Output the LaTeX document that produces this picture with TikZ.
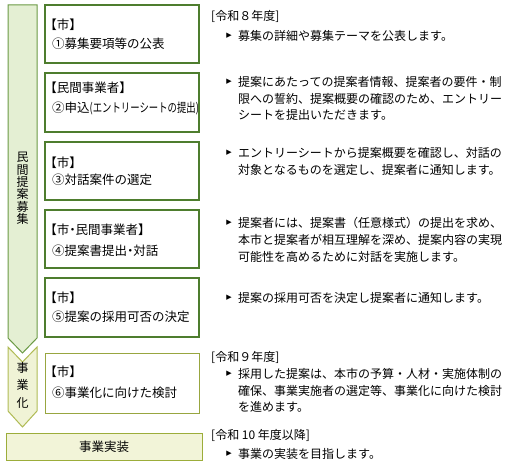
\documentclass[tikz,border=0pt]{standalone}
\usepackage{fontspec}
\usepackage{graphicx}
\setmainfont{Noto Sans CJK JP}
\newfontfamily\cjkhalt[RawFeature=+halt]{Noto Sans CJK JP}
\newfontfamily\symfont{DejaVu Sans}
\definecolor{arrAfill}{HTML}{E4EFD3}
\definecolor{arrAdraw}{HTML}{6B9A45}
\definecolor{arrBfill}{HTML}{F0F3D6}
\definecolor{arrBdraw}{HTML}{B0BB55}
\definecolor{boxAdraw}{HTML}{4E7D2E}
\definecolor{boxBdraw}{HTML}{98A640}
\definecolor{implfill}{HTML}{F2F4D8}
\definecolor{impldraw}{HTML}{9CAD3A}
\begin{document}
\begin{tikzpicture}[x=1pt,y=-1pt,
  rtxt/.style={anchor=west,inner sep=0pt,text height=10.56pt,text depth=1.44pt,font={\fontsize{12}{12}\selectfont}},
  ltxt/.style={anchor=west,inner sep=0pt,text height=11pt,text depth=1.5pt,font={\cjkhalt\fontsize{12.5}{12.5}\selectfont}},
  bul/.style={anchor=center,inner sep=0pt,font={\symfont\fontsize{7}{7}\selectfont}},
  stagebox/.style={draw=boxAdraw,line width=1.1pt,fill=white,minimum width=154pt,inner sep=0pt},
  stageboxB/.style={draw=boxBdraw,line width=1pt,fill=white,minimum width=154pt,inner sep=0pt},
  vtxt/.style={align=center,inner sep=0pt,font={\fontsize{12}{12.3}\selectfont}}
]
\useasboundingbox[fill=white] (0,0) rectangle (514,465);
% arrows
\draw[fill=arrAfill,draw=arrAdraw,line width=1pt] (8,5) -- (37,5) -- (37,338) -- (22.5,353) -- (8,338) -- cycle;
\draw[fill=arrBfill,draw=arrBdraw,line width=1pt] (8,347) -- (22.5,362) -- (37,347) -- (37,411) -- (22.5,427) -- (8,411) -- cycle;
\node[vtxt] (va) at (22.5,188.5) {民\\間\\提\\案\\募\\集};
\node[vtxt,font={\fontsize{12}{17.5}\selectfont}] (vb) at (22.5,385) {事\\業\\化};
% boxes
\node[stagebox,minimum height=58pt] (b1) at (122,34) {};
\node[stagebox,minimum height=59pt] (b2) at (122,102.5) {};
\node[stagebox,minimum height=58pt] (b3) at (122,171) {};
\node[stagebox,minimum height=58pt] (b4) at (122,239) {};
\node[stagebox,minimum height=59pt] (b5) at (122,307.5) {};
\node[stageboxB,minimum height=60pt] (b6) at (122,383) {};
\node[draw=impldraw,fill=implfill,line width=1pt,minimum width=196pt,minimum height=27pt,inner sep=0pt,font={\fontsize{12.5}{12.5}\selectfont}] (impl) at (104,446.5) {事業実装};
% box texts
\node[ltxt] (l1a) at (50.5,25) {【市】};
\node[ltxt] (l1b) at (52,44) {①募集要項等の公表};
\node[ltxt] (l2a) at (50.5,88) {【民間事業者】};
\node[ltxt] (l2b) at (52,108) {②申込\scalebox{0.75}[1]{(エントリーシートの提出)}};
\node[ltxt] (l3a) at (50.5,163) {【市】};
\node[ltxt] (l3b) at (52,180) {③対話案件の選定};
\node[ltxt] (l4a) at (50.5,230) {【市・民間事業者】};
\node[ltxt] (l4b) at (52,251) {④提案書提出・対話};
\node[ltxt] (l5a) at (50.5,298) {【市】};
\node[ltxt] (l5b) at (52,317) {⑤提案の採用可否の決定};
\node[ltxt] (l6a) at (50.5,372) {【市】};
\node[ltxt] (l6b) at (52,393) {⑥事業化に向けた検討};
% right texts
\node[rtxt] (h1) at (211,16) {[令和８年度]};
\node[bul] (u1) at (229,36) {▶};
\node[rtxt] (p1a) at (238,36) {募集の詳細や募集テーマを公表します。};
\node[bul] (u2) at (229,82) {▶};
\node[rtxt] (p2a) at (238,82) {提案にあたっての提案者情報、提案者の要件・制};
\node[rtxt] (p2b) at (238,98.5) {限への誓約、提案概要の確認のため、エントリー};
\node[rtxt] (p2c) at (238,115) {シートを提出いただきます。};
\node[bul] (u3) at (229,153) {▶};
\node[rtxt] (p3a) at (238,153) {エントリーシートから提案概要を確認し、対話の};
\node[rtxt] (p3b) at (238,170) {対象となるものを選定し、提案者に通知します。};
\node[bul] (u4) at (229,223) {▶};
\node[rtxt] (p4a) at (238,223) {提案者には、提案書（任意様式）の提出を求め、};
\node[rtxt] (p4b) at (238,240) {本市と提案者が相互理解を深め、提案内容の実現};
\node[rtxt] (p4c) at (238,257) {可能性を高めるために対話を実施します。};
\node[bul] (u5) at (229,298) {▶};
\node[rtxt] (p5a) at (238,298) {提案の採用可否を決定し提案者に通知します。};
\node[rtxt] (h2) at (211,357) {[令和９年度]};
\node[bul] (u6) at (229,374) {▶};
\node[rtxt] (p6a) at (238,374) {採用した提案は、本市の予算・人材・実施体制の};
\node[rtxt] (p6b) at (238,390.5) {確保、事業実施者の選定等、事業化に向けた検討};
\node[rtxt] (p6c) at (238,407) {を進めます。};
\node[rtxt] (h3) at (211,435) {[令和 10 年度以降]};
\node[bul] (u7) at (229,454) {▶};
\node[rtxt] (p7a) at (238,454) {事業の実装を目指します。};
\end{tikzpicture}
\end{document}
